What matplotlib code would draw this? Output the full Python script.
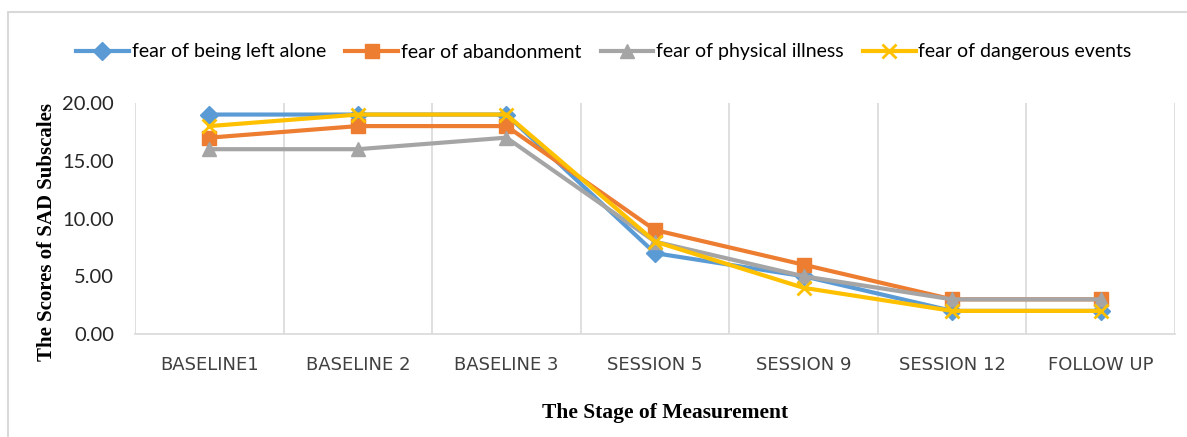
import matplotlib
matplotlib.use('Agg')
import matplotlib.pyplot as plt
from matplotlib.patches import Rectangle

# 데이터
stages = ['BASELINE1', 'BASELINE 2', 'BASELINE 3', 'SESSION 5', 'SESSION 9', 'SESSION 12', 'FOLLOW UP']
left_alone = [19, 19, 19, 7, 5, 2, 2]
abandonment = [17, 18, 18, 9, 6, 3, 3]
physical_illness = [16, 16, 17, 8, 5, 3, 3]
dangerous_events = [18, 19, 19, 8, 4, 2, 2]

names = ['fear of being left alone', 'fear of abandonment',
         'fear of physical illness', 'fear of dangerous events']

narrow = ['Lato', 'DejaVu Sans']
serif = ['Liberation Serif', 'DejaVu Serif']

W, H = 1187, 437
fig = plt.figure(figsize=(W / 100, H / 100), dpi=100)
ax = fig.add_axes([135 / W, 1 - 334 / H, (1175 - 135) / W, (334 - 103) / H])

x = list(range(len(stages)))
ax.plot(x, left_alone, color='#5B9BD5', lw=3, marker='D', ms=9, label=names[0])
ax.plot(x, abandonment, color='#ED7D31', lw=3, marker='s', ms=10, label=names[1])
ax.plot(x, physical_illness, color='#A5A5A5', lw=3, marker='^', ms=10, label=names[2])
ax.plot(x, dangerous_events, color='#FFC000', lw=3, marker='x', ms=10, mew=2, label=names[3])

ax.set_xlim(-0.5, len(stages) - 0.5)
ax.set_ylim(0, 20)
ax.set_yticks([0, 5, 10, 15, 20])
ax.set_yticklabels(['%.2f' % v for v in [0, 5, 10, 15, 20]], family=narrow, fontsize=14.5, color='#262626')
ax.set_xticks(x)
ax.set_xticklabels(stages, family='DejaVu Sans', fontsize=13, color='#404040')
ax.tick_params(length=0)
ax.tick_params(axis='y', pad=15)
ax.tick_params(axis='x', pad=16)

# 카테고리 사이 세로 격자선
for b in range(len(stages) + 1):
    ax.axvline(b - 0.5, color='#D9D9D9', lw=1.2, zorder=0)
for s in ['top', 'right', 'left']:
    ax.spines[s].set_visible(False)
ax.spines['bottom'].set_color('#D9D9D9')
ax.spines['bottom'].set_linewidth(1.2)

ax.set_ylabel('The Scores of SAD Subscales', family=serif, fontweight='bold', fontsize=15)
ax.yaxis.set_label_coords(-0.075, 0.44)
ax.set_xlabel('The Stage of Measurement', family=serif, fontweight='bold', fontsize=15.5)
ax.xaxis.set_label_coords(0.51, -0.30)

fig.legend(loc='center', bbox_to_anchor=(604 / W, 1 - 52 / H), ncol=4, frameon=False,
           prop={'family': narrow, 'size': 14}, handlelength=2.7, handletextpad=0.15,
           columnspacing=1.0)

# 바깥 테두리
fig.patches.append(Rectangle((8 / W, -0.1), 1.2, 1 - 12 / H + 0.1, transform=fig.transFigure,
                             fill=False, edgecolor='#D9D9D9', lw=1.5))

fig.savefig('out.png', dpi=100)
